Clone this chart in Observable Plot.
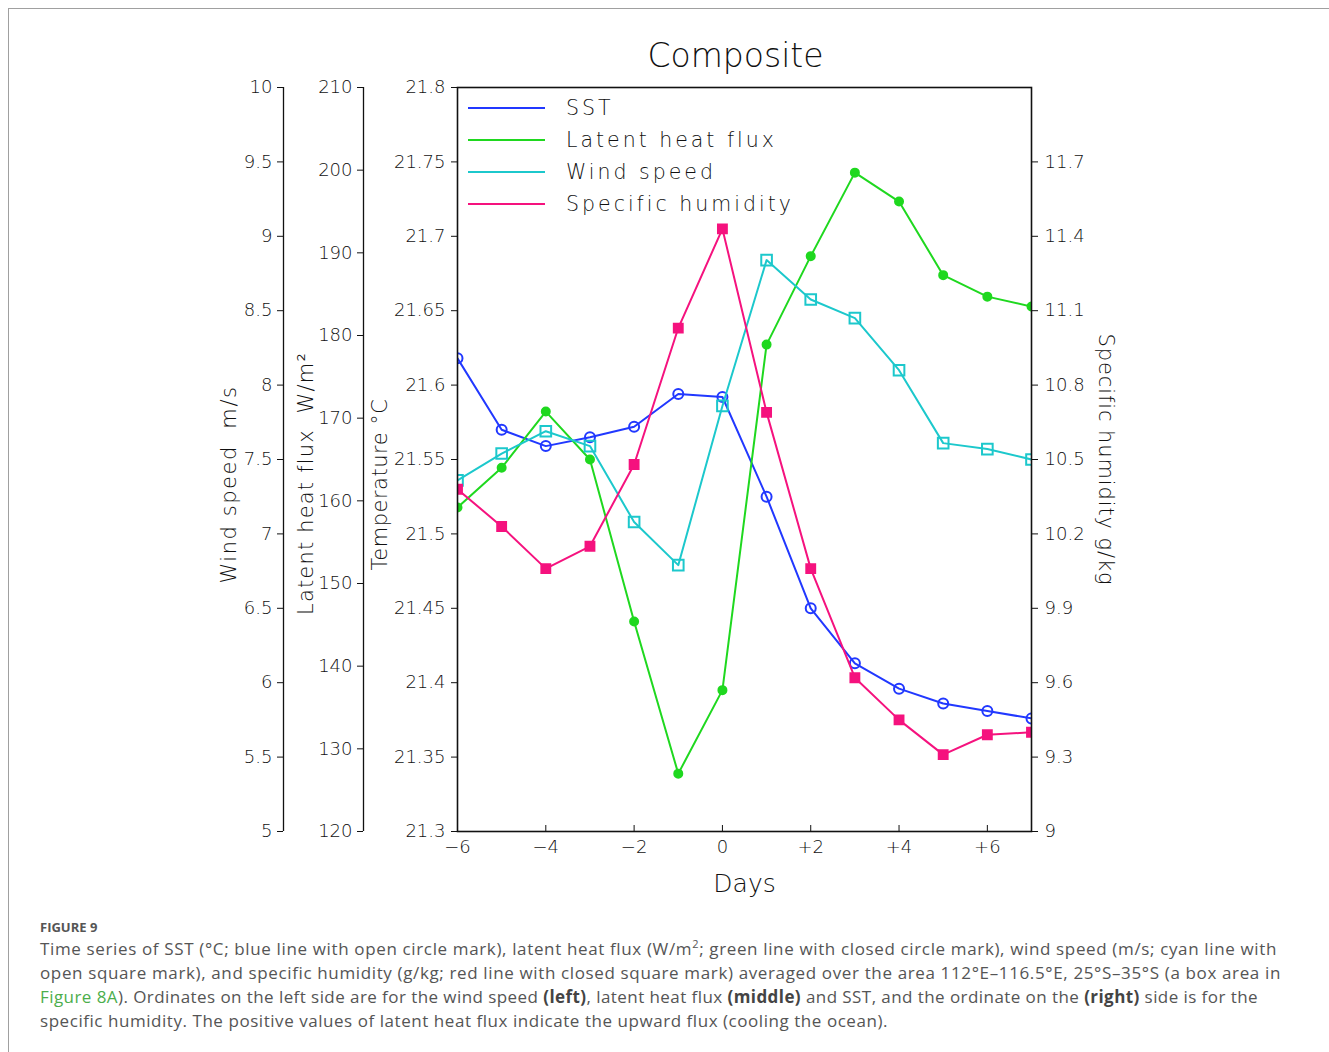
<!DOCTYPE html>
<html><head><meta charset="utf-8">
<script src="https://cdn.jsdelivr.net/npm/d3@7"></script>
<script src="https://cdn.jsdelivr.net/npm/@observablehq/plot@0.6"></script>
<style>
body{margin:0;background:#fff;}
#wrap{position:relative;width:1329px;height:1052px;overflow:hidden;background:#fff;}
#border{position:absolute;left:8px;top:8px;right:-4px;bottom:-4px;border-left:1px solid #a0a0a0;border-top:1px solid #a0a0a0;}
#chart{position:absolute;left:0;top:0;}
#caption{position:absolute;left:40px;top:917px;font-family:"Open Sans",Lato,sans-serif;color:#555;white-space:nowrap;}
#caption .fig{font-size:13px;font-weight:bold;line-height:20px;color:#555;}
#caption .txt{font-size:17px;line-height:24px;}
#caption .txt > div{display:inline-block;}
#caption .lnk{color:#4cae4c;}
#caption b{color:#444;}
</style></head>
<body><div id="wrap"><div id="border"></div><div id="chart"></div>
<div id="caption"><div class="fig">FIGURE 9</div><div class="txt">
<div data-w="1237">Time series of SST (°C; blue line with open circle mark), latent heat flux (W/m<sup style="font-size:11px;line-height:0">2</sup>; green line with closed circle mark), wind speed (m/s; cyan line with</div><br>
<div data-w="1241">open square mark), and specific humidity (g/kg; red line with closed square mark) averaged over the area 112°E–116.5°E, 25°S–35°S (a box area in</div><br>
<div data-w="1218"><span class="lnk">Figure 8A</span>). Ordinates on the left side are for the wind speed <b>(left)</b>, latent heat flux <b>(middle)</b> and SST, and the ordinate on the <b>(right)</b> side is for the</div><br>
<div data-w="848">specific humidity. The positive values of latent heat flux indicate the upward flux (cooling the ocean).</div>
</div></div>
</div>
<script>
// ---- data ----
const days = [-6, -5, -4, -3, -2, -1, 0, 1, 2, 3, 4, 5, 6, 7];
const sst = [21.618, 21.570, 21.559, 21.565, 21.572, 21.594, 21.592, 21.525, 21.450, 21.413, 21.396, 21.386, 21.381, 21.376];
const latentHeatFlux = [159.2, 164.0, 170.8, 165.0, 145.4, 127.0, 137.1, 178.9, 189.6, 199.7, 196.2, 187.3, 184.7, 183.5];
const windSpeed = [7.36, 7.54, 7.69, 7.59, 7.08, 6.79, 7.86, 8.84, 8.575, 8.45, 8.10, 7.61, 7.57, 7.50];
const specificHumidity = [10.38, 10.23, 10.06, 10.15, 10.48, 11.03, 11.43, 10.69, 10.06, 9.62, 9.45, 9.31, 9.39, 9.40];

const seriesNames = ["SST", "Latent heat flux", "Wind speed", "Specific humidity"];
const seriesColors = ["#2138ff", "#1fd81f", "#1cc8cc", "#f5127e"];

const tempDomain = [21.3, 21.8];
const latentDomain = [120, 210];
const windDomain = [5, 10];
const humidityDomain = [9, 12];
const tempTicks = [21.3, 21.35, 21.4, 21.45, 21.5, 21.55, 21.6, 21.65, 21.7, 21.75, 21.8];
const latentTicks = [120, 130, 140, 150, 160, 170, 180, 190, 200, 210];
const windTicks = [5, 5.5, 6, 6.5, 7, 7.5, 8, 8.5, 9, 9.5, 10];
const humidityTicks = [9, 9.3, 9.6, 9.9, 10.2, 10.5, 10.8, 11.1, 11.4, 11.7];
const dayTicks = [-6, -4, -2, 0, 2, 4, 6];
const dayDomain = [-6, 7];

const axisTitles = {
  wind: "Wind speed\u00a0\u00a0m/s",
  latent: "Latent heat flux\u00a0\u00a0W/m\u00b2",
  temp: "Temperature \u00b0C",
  hum: "Specific humidity g/kg"
};

// ---- layout ----
const W = 1329, H = 905;
const mL = 457, mR = W - 1031, mT = 87, mB = H - 831;
const FONT = "DejaVu Sans, sans-serif";
const INK = "#111";

function hasFont(name) {
  const c = document.createElement("canvas").getContext("2d");
  const s = "0123456789.abcdefgWMi";
  c.font = "40px monospace"; const a = c.measureText(s).width;
  c.font = `40px "${name}", monospace`; const b = c.measureText(s).width;
  return Math.abs(a - b) > 0.5;
}
const narrow = hasFont("Liberation Sans Narrow");
const TICK_FONT = narrow ? '"Liberation Sans Narrow", sans-serif' : FONT;
const TICK_SIZE = narrow ? 22 : 18;
const tickText = {fontFamily: TICK_FONT, fontSize: TICK_SIZE};

// secondary scales mapped onto the temperature axis
const toTemp = dom => d3.scaleLinear().domain(dom).range(tempDomain);
const latT = toTemp(latentDomain), winT = toTemp(windDomain), humT = toTemp(humidityDomain);
const inv = s => d => String(+s.invert(d).toFixed(2));

const rows = days.map((d, i) => ({
  day: d, sst: sst[i], latent: latT(latentHeatFlux[i]), wind: winT(windSpeed[i]), hum: humT(specificHumidity[i])
}));

const dayFmt = d => d > 0 ? "+" + d : d < 0 ? "\u2212" + (-d) : "0";

function series(key, color, symbol, r, filled) {
  return [
    Plot.line(rows, {x: "day", y: key, stroke: color, strokeWidth: 2, clip: true}),
    Plot.dot(rows, {x: "day", y: key, symbol, r, stroke: color, strokeWidth: 2,
      fill: filled ? color : "none", clip: true})
  ];
}

const title = (txt, o) => Plot.text([txt], {textAnchor: "middle", lineAnchor: "middle", fontSize: 21, ...o});

const plot = Plot.plot({
  width: W, height: H,
  marginLeft: mL, marginRight: mR, marginTop: mT, marginBottom: mB,
  style: {fontFamily: FONT, fontSize: "19px", fontWeight: 300, color: INK, background: "transparent"},
  x: {domain: dayDomain},
  y: {domain: tempDomain},
  marks: [
    // temperature axis (frame left)
    Plot.axisY(tempTicks, {anchor: "left", tickSize: 6, tickPadding: 6, tickFormat: d => String(d), label: null, ...tickText}),
    // latent heat flux axis
    Plot.ruleX([dayDomain[0]], {y1: tempDomain[0], y2: tempDomain[1], dx: -94, stroke: INK, strokeWidth: 1.3}),
    Plot.axisY(latentTicks.map(latT), {anchor: "left", dx: -94, tickSize: 6, tickPadding: 5, tickFormat: inv(latT), label: null, ...tickText}),
    // wind speed axis
    Plot.ruleX([dayDomain[0]], {y1: tempDomain[0], y2: tempDomain[1], dx: -174, stroke: INK, strokeWidth: 1.3}),
    Plot.axisY(windTicks.map(winT), {anchor: "left", dx: -174, tickSize: 6, tickPadding: 5, tickFormat: inv(winT), label: null, ...tickText}),
    // specific humidity axis (right)
    Plot.axisY(humidityTicks.map(humT), {anchor: "right", tickSize: 6, tickPadding: 7, tickFormat: inv(humT), label: null, ...tickText}),
    // x axis: inward ticks + labels
    Plot.axisX(dayTicks, {anchor: "bottom", tickSize: 6, dy: -6, tickFormat: () => "", label: null}),
    Plot.axisX(dayTicks, {anchor: "bottom", tickSize: 0, tickPadding: 9, tickFormat: dayFmt, label: null, ...tickText}),
    // series
    ...series("sst", seriesColors[0], "circle", 5, false),
    ...series("latent", seriesColors[1], "circle", 4, true),
    ...series("wind", seriesColors[2], "square", 6, false),
    ...series("hum", seriesColors[3], "square", 5, true),
    Plot.frame({stroke: "#111", strokeWidth: 1.6}),
    // axis titles
    title(axisTitles.wind, {frameAnchor: "left", rotate: -90, dx: -228, dy: 25}),
    title(axisTitles.latent, {frameAnchor: "left", rotate: -90, dx: -151, dy: 24}),
    title(axisTitles.temp, {frameAnchor: "left", rotate: -90, dx: -77, dy: 25}),
    title(axisTitles.hum, {frameAnchor: "right", rotate: 90, dx: 74, dy: 0}),
    title("Days", {frameAnchor: "bottom", dy: 52, fontSize: 25}),
    title("Composite", {frameAnchor: "top", dy: -31, dx: -9, fontSize: 33})
  ]
});

const svg = d3.select(plot);

// legend inside the frame, top-left
const leg = svg.append("g").attr("font-family", FONT).attr("font-size", 20.5).attr("font-weight", 300)
  .attr("fill", INK).attr("text-anchor", "start");
seriesNames.forEach((name, i) => {
  const y = 108 + 32 * i;
  leg.append("line").attr("x1", 468).attr("x2", 545).attr("y1", y).attr("y2", y)
    .attr("stroke", seriesColors[i]).attr("stroke-width", 2);
  leg.append("text").attr("x", 566).attr("y", y).attr("dy", "0.36em")
    .attr("letter-spacing", 3).text(name);
});

document.getElementById("chart").appendChild(plot);

// wide letter spacing for the axis titles (GrADS-like), fitted to the reference lengths
const titleLengths = {[axisTitles.wind]: 198, [axisTitles.latent]: 263, [axisTitles.temp]: 172, [axisTitles.hum]: 252};
svg.selectAll("text").each(function () {
  const target = titleLengths[this.textContent];
  if (target == null) return;
  const len = this.getComputedTextLength();
  const n = this.textContent.length;
  this.style.letterSpacing = Math.max(0, (target - len) / n) + "px";
});

// fit caption lines to the reference line widths
document.querySelectorAll("#caption .txt > div").forEach(el => {
  const target = +el.dataset.w;
  const n = el.textContent.length;
  const w = el.getBoundingClientRect().width;
  el.style.letterSpacing = ((target - w) / n) + "px";
});
</script>
</body></html>
